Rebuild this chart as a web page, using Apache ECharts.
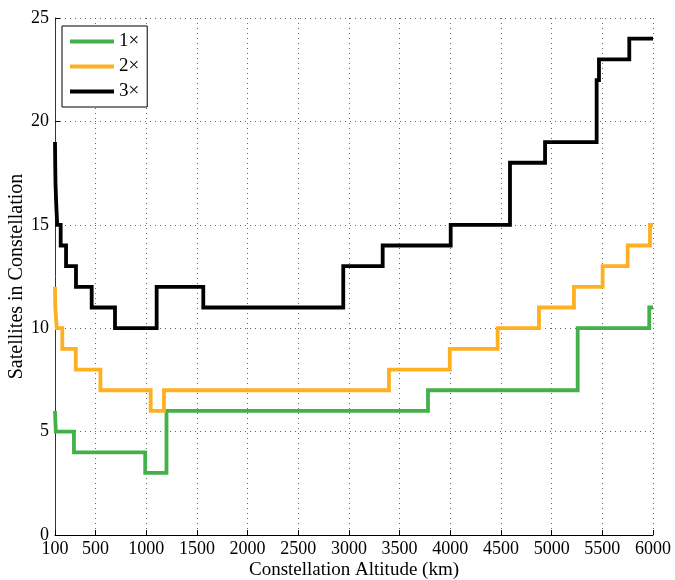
<!DOCTYPE html>
<html>
<head>
<meta charset="utf-8">
<script src="https://cdn.jsdelivr.net/npm/echarts@6/dist/echarts.min.js"></script>
<style>
  html, body { margin: 0; padding: 0; background: #fff; }
  #chart { width: 675px; height: 580px; }
</style>
</head>
<body>
<div id="chart"></div>
<script>
// Step profiles: each [altitude_km, satellites] holds from that altitude up to the next one.
const coverage1x = [
  [100, 6], [108, 5], [287, 4], [990, 3], [1200, 6], [3780, 7], [5257, 10], [5963, 11], [6000, 11]
];
const coverage2x = [
  [100, 12], [103, 11], [117, 10], [172, 9], [305, 8], [548, 7], [1044, 6], [1175, 7],
  [3395, 8], [3995, 9], [4467, 10], [4875, 11], [5220, 12], [5503, 13], [5750, 14], [5970, 15], [6000, 15]
];
const coverage3x = [
  [100, 19], [102, 18], [105, 17], [112, 16], [122, 15], [156, 14], [209, 13], [307, 12],
  [462, 11], [692, 10], [1103, 12], [1563, 11], [2944, 13], [3333, 14], [4004, 15],
  [4589, 18], [4935, 19], [5444, 22], [5467, 23], [5766, 24], [6000, 24]
];
const seriesNames = ['1\u00d7', '2\u00d7', '3\u00d7'];
const altitudeTicks = [100, 500, 1000, 1500, 2000, 2500, 3000, 3500, 4000, 4500, 5000, 5500, 6000];

const FONT = 'Liberation Serif';
const colors = ['#43b14a', '#fdb022', '#000000'];

const chart = echarts.init(document.getElementById('chart'), null, { renderer: 'canvas' });

const gridLine = { show: true, lineStyle: { color: '#666', width: 1, type: [1, 4] } };

chart.setOption({
  animation: false,
  backgroundColor: '#fff',
  grid: { left: 55, right: 22, top: 18, bottom: 45, containLabel: false, outerBoundsMode: 'none' },
  legend: {
    left: 62, top: 26,
    orient: 'vertical',
    padding: [6, 8, 6, 8],
    itemGap: 6,
    itemWidth: 44,
    itemHeight: 4,
    borderColor: '#000',
    borderWidth: 1,
    borderRadius: 0,
    backgroundColor: '#fff',
    textStyle: { fontFamily: FONT, fontSize: 19, color: '#000', lineHeight: 19 },
    data: seriesNames.map(n => ({ name: n, icon: 'rect' }))
  },
  xAxis: {
    type: 'value',
    min: 100, max: 6000,
    name: 'Constellation Altitude (km)',
    nameLocation: 'middle',
    nameGap: 26,
    nameMoveOverlap: false,
    nameTextStyle: { fontFamily: FONT, fontSize: 19, color: '#000' },
    axisLine: { show: true, onZero: false, lineStyle: { color: '#000', width: 1 } },
    axisTick: { show: true, inside: true, length: 5, customValues: altitudeTicks, lineStyle: { color: '#000' } },
    axisLabel: {
      customValues: altitudeTicks, fontFamily: FONT, fontSize: 18, color: '#000', margin: 5,
      formatter: v => String(v)
    },
    splitLine: gridLine
  },
  yAxis: {
    type: 'value',
    min: 0, max: 25, interval: 5,
    name: 'Satellites in Constellation',
    nameLocation: 'middle',
    nameGap: 28,
    nameMoveOverlap: false,
    nameTextStyle: { fontFamily: FONT, fontSize: 20, color: '#000' },
    axisLine: { show: true, lineStyle: { color: '#333', width: 1 } },
    axisTick: { show: true, inside: true, length: 5, lineStyle: { color: '#000' } },
    axisLabel: { fontFamily: FONT, fontSize: 18, color: '#000', margin: 6 },
    splitLine: gridLine
  },
  series: [coverage1x, coverage2x, coverage3x].map((d, i) => ({
    name: seriesNames[i],
    type: 'line',
    step: 'end',
    data: d,
    showSymbol: false,
    symbol: 'none',
    lineStyle: { color: colors[i], width: 3.8, join: 'miter', cap: 'butt' },
    itemStyle: { color: colors[i] },
    z: 2 + i
  }))
});
</script>
</body>
</html>
